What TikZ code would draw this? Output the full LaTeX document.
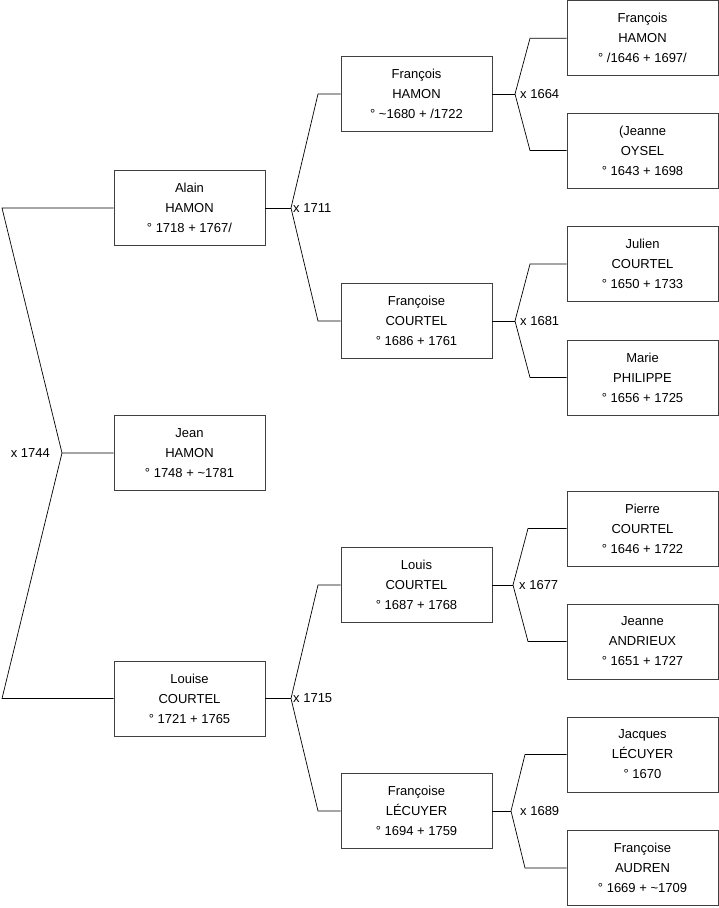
\documentclass[tikz,border=0pt]{standalone}
\usepackage{fontspec}
\setmainfont{Liberation Sans}
\begin{document}
\begin{tikzpicture}[x=1pt,y=-1pt,
  person/.style={draw=black!75, line width=0.9pt, minimum width=151pt, minimum height=75pt, inner sep=0pt, align=center, font=\fontsize{13}{20}\selectfont},
  link/.style={draw=black, line width=0.7pt},
  mar/.style={inner sep=0pt, font=\fontsize{13}{15}\selectfont}]
\useasboundingbox (0,0) rectangle (719,908);
% generation 1
\node[person] (alain) at (189.5,208) {Alain\\HAMON\\° 1718 + 1767/};
\node[person] (jean) at (189.5,453) {Jean\\HAMON\\° 1748 + \textasciitilde1781};
\node[person] (louise) at (189.5,698.5) {Louise\\COURTEL\\° 1721 + 1765};
% generation 2
\node[person] (fh) at (416.5,94) {François\\HAMON\\° \textasciitilde1680 + /1722};
\node[person] (fc) at (416.5,321) {Françoise\\COURTEL\\° 1686 + 1761};
\node[person] (lc) at (416.5,585) {Louis\\COURTEL\\° 1687 + 1768};
\node[person] (fl) at (416.5,811) {Françoise\\LÉCUYER\\° 1694 + 1759};
% generation 3
\node[person] (p1) at (642.5,38.3) {François\\HAMON\\° /1646 + 1697/};
\node[person] (p2) at (642.5,150.5) {(Jeanne\\OYSEL\\° 1643 + 1698};
\node[person] (p3) at (642.5,264) {Julien\\COURTEL\\° 1650 + 1733};
\node[person] (p4) at (642.5,377.5) {Marie\\PHILIPPE\\° 1656 + 1725};
\node[person] (p5) at (642.5,528.5) {Pierre\\COURTEL\\° 1646 + 1722};
\node[person] (p6) at (642.5,641.5) {Jeanne\\ANDRIEUX\\° 1651 + 1727};
\node[person] (p7) at (642.5,754.5) {Jacques\\LÉCUYER\\° 1670};
\node[person] (p8) at (642.5,868) {Françoise\\AUDREN\\° 1669 + \textasciitilde1709};
% junction coordinates
\coordinate (r1) at (2,208);
\coordinate (rj) at (62,453);
\coordinate (r2) at (2,698.5);
\coordinate (aj) at (291,208);
\coordinate (lj) at (291,698.5);
\coordinate (fhj) at (515,94);
\coordinate (fcj) at (515,321);
\coordinate (lcj) at (513,585);
\coordinate (flj) at (511,811);
% connectors
\draw[link] (alain.west) -- (r1) -- (rj) -- (jean.west);
\draw[link] (rj) -- (r2) -- (louise.west);
\draw[link] (fh.west) -- (318,94) -- (aj) -- (318,321) -- (fc.west);
\draw[link] (alain.east) -- (aj);
\draw[link] (lc.west) -- (318,585) -- (lj) -- (318,811) -- (fl.west);
\draw[link] (louise.east) -- (lj);
\draw[link] (p1.west) -- (530,38.3) -- (fhj) -- (530,150.5) -- (p2.west);
\draw[link] (fh.east) -- (fhj);
\draw[link] (p3.west) -- (530,264) -- (fcj) -- (530,377.5) -- (p4.west);
\draw[link] (fc.east) -- (fcj);
\draw[link] (p5.west) -- (528,528.5) -- (lcj) -- (528,641.5) -- (p6.west);
\draw[link] (lc.east) -- (lcj);
\draw[link] (p7.west) -- (525,754.5) -- (flj) -- (525,868) -- (p8.west);
\draw[link] (fl.east) -- (flj);
% marriage labels
\node[mar, anchor=east] (m1744) at (50,453) {x 1744};
\node[mar, anchor=west] (m1711) at (293,208) {x 1711};
\node[mar, anchor=west] (m1715) at (293,698.5) {x 1715};
\node[mar, anchor=west] (m1664) at (520,94) {x 1664};
\node[mar, anchor=west] (m1681) at (520,321) {x 1681};
\node[mar, anchor=west] (m1677) at (519,585) {x 1677};
\node[mar, anchor=west] (m1689) at (520,811) {x 1689};
\end{tikzpicture}
\end{document}
